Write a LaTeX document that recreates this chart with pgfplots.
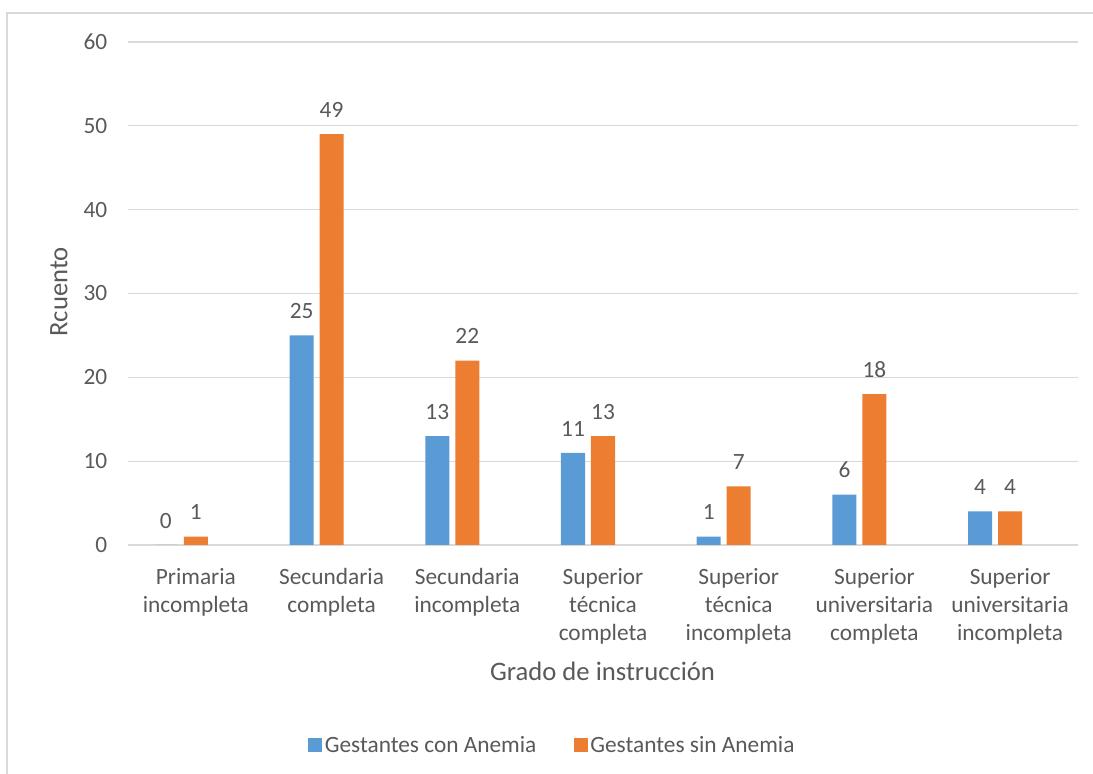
\documentclass[border=0pt]{standalone}
\usepackage{pgfplots}
\pgfplotsset{compat=1.18}
\usepackage{fontspec}
\setmainfont{Carlito}
\definecolor{cblue}{HTML}{5B9BD5}
\definecolor{corange}{HTML}{ED7D31}
\definecolor{tgray}{HTML}{595959}
\definecolor{ggray}{HTML}{D9D9D9}
\begin{document}
\begin{tikzpicture}
\path[use as bounding box] (-96pt,-171.75pt) rectangle (723.75pt,408.75pt);
\draw[ggray, line width=1pt] (-90.75pt,399pt) rectangle (760pt,-220pt);
\begin{axis}[
  at={(0,0)}, anchor=south west,
  scale only axis, width=712.5pt, height=377.25pt,
  font=\fontsize{17.5}{21}\selectfont,
  /pgf/number format/assume math mode=true,
  xmin=-0.5, xmax=6.5, ymin=0, ymax=60,
  ytick={0,10,...,60},
  ymajorgrids, grid style={ggray, line width=0.8pt},
  axis line style={draw=none},
  major tick length=0pt,
  tick style={draw=none},
  yticklabel style={text=tgray, xshift=-12pt},
  xtick={0,...,6},
  xticklabels={{Primaria\\incompleta},{Secundaria\\completa},{Secundaria\\incompleta},{Superior\\técnica\\completa},{Superior\\técnica\\incompleta},{Superior\\universitaria\\completa},{Superior\\universitaria\\incompleta}},
  xticklabel style={align=center, text=tgray, yshift=-14pt},
  ybar, bar width=0.177,
  xlabel={Grado de instrucción},
  xlabel style={at={(axis description cs:0.4995,-0.252)}, anchor=center, text=tgray, font=\fontsize{20}{24}\selectfont},
  ylabel={Rcuento},
  ylabel style={at={(axis description cs:-0.0726,0.503)}, anchor=center, text=tgray, font=\fontsize{20}{24}\selectfont},
  nodes near coords,
  nodes near coords style={text=tgray, anchor=south, yshift=9pt},
  legend columns=2,
  legend style={draw=none, at={(0.447,-0.398)}, anchor=center, text=tgray,
    /tikz/every even column/.append style={column sep=26pt}},
  legend image code/.code={\path[#1, draw=none] (-3pt,-5.25pt) rectangle (7.5pt,5.25pt);},
]
\addplot[fill=cblue, draw=none, bar shift=-0.221] coordinates {(0,0) (1,25) (2,13) (3,11) (4,1) (5,6) (6,4)};
\addplot[fill=corange, draw=none, bar shift=0] coordinates {(0,1) (1,49) (2,22) (3,13) (4,7) (5,18) (6,4)};
\legend{Gestantes con Anemia, Gestantes sin Anemia}
\end{axis}
\end{tikzpicture}
\end{document}
